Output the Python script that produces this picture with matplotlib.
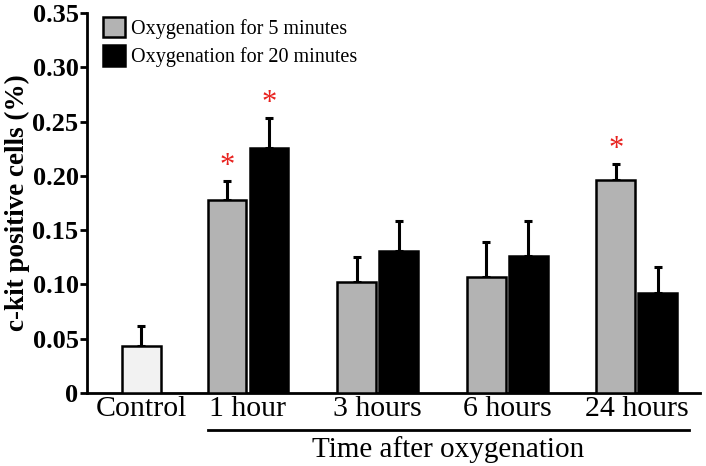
import numpy as np
import matplotlib.pyplot as plt
import matplotlib.transforms as mtransforms

# Values
groups = ['1 hour', '3 hours', '6 hours', '24 hours']
control_mean = 0.043
control_err = 0.019
oxy5_mean = [0.178, 0.102, 0.107, 0.196]
oxy5_err = [0.017, 0.023, 0.032, 0.015]
oxy20_mean = [0.226, 0.131, 0.126, 0.092]
oxy20_err = [0.027, 0.027, 0.032, 0.024]
oxy5_sig = [True, False, False, True]
oxy20_sig = [True, False, False, False]
yticks = [0, 0.05, 0.10, 0.15, 0.20, 0.25, 0.30, 0.35]
ytick_labels = ['0', '0.05', '0.10', '0.15', '0.20', '0.25', '0.30', '0.35']

plt.rcParams['font.family'] = ['Liberation Serif', 'DejaVu Serif']

fig = plt.figure(figsize=(7.06, 4.66), dpi=100)
ax = fig.add_axes([0.123, 0.157, 0.869, 0.815])

width = 0.30
off = 0.162
gx = np.arange(1, len(groups) + 1)
ctrl_x = 0.178

ekw = dict(ecolor='black', elinewidth=2.2, capsize=3, capthick=2.2)
ax.bar(ctrl_x, control_mean, width, color='#f2f2f2', edgecolor='black',
       linewidth=1.8, zorder=3)
ax.errorbar(ctrl_x, control_mean, yerr=[[0], [control_err]], fmt='none', zorder=2, **ekw)

ax.bar(gx - off, oxy5_mean, width, color='#b3b3b3', edgecolor='black',
       linewidth=1.8, zorder=3, label='Oxygenation for 5 minutes')
ax.errorbar(gx - off, oxy5_mean, yerr=[np.zeros(4), oxy5_err], fmt='none', zorder=2, **ekw)
ax.bar(gx + off, oxy20_mean, width, color='black', edgecolor='black',
       linewidth=1.8, zorder=3, label='Oxygenation for 20 minutes')
ax.errorbar(gx + off, oxy20_mean, yerr=[np.zeros(4), oxy20_err], fmt='none', zorder=2, **ekw)

# significance stars
for x, m, e, s in zip(gx - off, oxy5_mean, oxy5_err, oxy5_sig):
    if s:
        ax.text(x, m + e, '*', color='#e8221f', ha='center', va='bottom', fontsize=22)
for x, m, e, s in zip(gx + off, oxy20_mean, oxy20_err, oxy20_sig):
    if s:
        ax.text(x, m + e, '*', color='#e8221f', ha='center', va='bottom', fontsize=22)

ax.set_xlim(-0.243, 4.49)
ax.set_ylim(0, 0.35)
ax.set_yticks(yticks)
ax.set_yticklabels(ytick_labels, fontsize=19, fontweight='bold')
ax.set_xticks([ctrl_x] + list(gx))
ax.set_xticklabels(['Control'] + groups, fontsize=21.5)
ax.tick_params(axis='x', length=0, pad=2)
ax.tick_params(axis='y', length=5, width=2, direction='out', pad=1)
ax.set_ylabel('c-kit positive cells (%)', fontsize=19.5, fontweight='bold', labelpad=2)

for side in ['top', 'right']:
    ax.spines[side].set_visible(False)
for side in ['left', 'bottom']:
    ax.spines[side].set_linewidth(2)

# underline for the time groups
trans = mtransforms.blended_transform_factory(ax.transData, ax.transAxes)
x0 = gx[0] - off - width / 2
x1 = gx[-1] + off + width / 2 + 0.09
ax.plot([x0, x1], [-0.097, -0.097], color='black', lw=2, transform=trans, clip_on=False)
ax.text((x0 + x1) / 2, -0.113, 'Time after oxygenation', transform=trans,
        ha='center', va='top', fontsize=21)

ax.legend(loc='upper left', bbox_to_anchor=(0.026, 0.99), frameon=False, fontsize=14.5,
          handlelength=1.1, handleheight=1.2, handletextpad=0.3, labelspacing=0.3,
          borderaxespad=0, borderpad=0)

fig.savefig('out.png', dpi=100)
